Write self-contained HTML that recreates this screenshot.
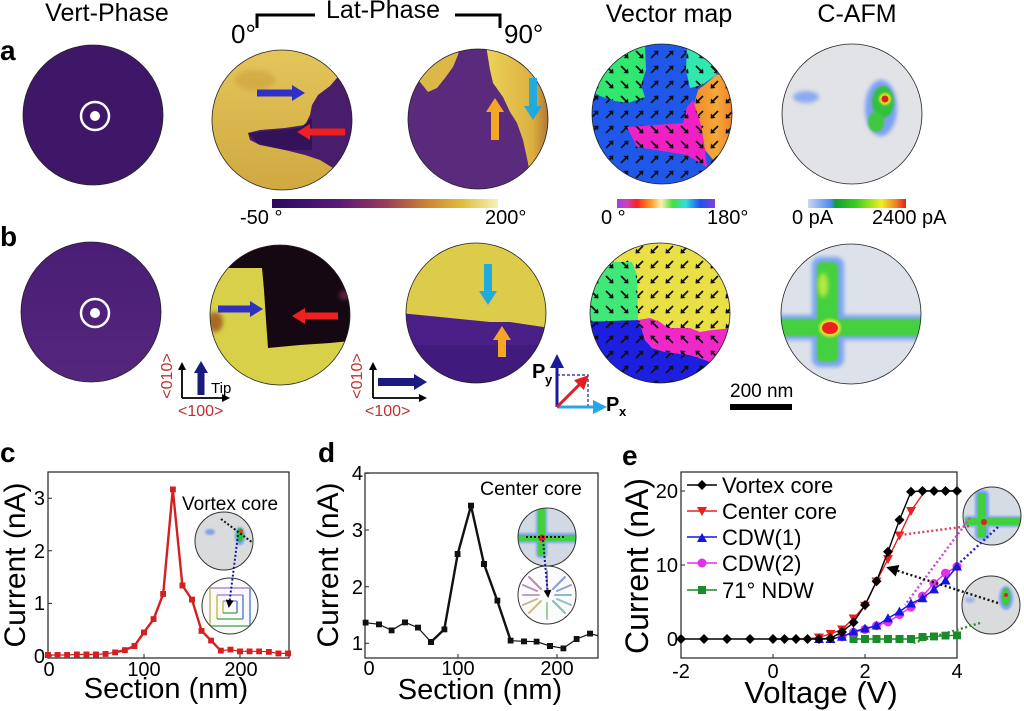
<!DOCTYPE html>
<html><head><meta charset="utf-8"><style>
html,body{margin:0;padding:0;background:#fff;}
svg{display:block;}
text{font-family:"Liberation Sans",Arial,sans-serif;}
</style></head><body>
<svg width="1024" height="711" viewBox="0 0 1024 711" xmlns="http://www.w3.org/2000/svg">
<defs>
<clipPath id="c1"><circle cx="93" cy="115" r="70"/></clipPath>
<clipPath id="c2"><circle cx="282" cy="120" r="70"/></clipPath>
<clipPath id="c3"><circle cx="478" cy="119" r="70"/></clipPath>
<clipPath id="c4"><circle cx="662" cy="114" r="70"/></clipPath>
<clipPath id="c5"><circle cx="852" cy="114" r="70"/></clipPath>
<clipPath id="c6"><circle cx="91" cy="312" r="70"/></clipPath>
<clipPath id="c7"><circle cx="280" cy="315" r="70"/></clipPath>
<clipPath id="c8"><circle cx="476" cy="313" r="70"/></clipPath>
<clipPath id="c9"><circle cx="660" cy="313" r="70"/></clipPath>
<clipPath id="c10"><circle cx="851" cy="314" r="70"/></clipPath>
<clipPath id="ci1"><circle cx="224" cy="541" r="29"/></clipPath>
<clipPath id="ci2"><circle cx="230" cy="606" r="28"/></clipPath>
<clipPath id="ci3"><circle cx="547" cy="537" r="29"/></clipPath>
<clipPath id="ci4"><circle cx="547" cy="595" r="29"/></clipPath>
<clipPath id="ci5"><circle cx="992" cy="516" r="29"/></clipPath>
<clipPath id="ci6"><circle cx="991" cy="605" r="29"/></clipPath>
<filter id="bl2" x="-50%" y="-50%" width="200%" height="200%"><feGaussianBlur stdDeviation="2"/></filter>
<filter id="bl1" x="-50%" y="-50%" width="200%" height="200%"><feGaussianBlur stdDeviation="1"/></filter>
<linearGradient id="gLat" x1="0" x2="1" y1="0" y2="0">
<stop offset="0" stop-color="#2a0a5e"/><stop offset="0.3" stop-color="#5a1a78"/><stop offset="0.5" stop-color="#9a3a58"/><stop offset="0.7" stop-color="#d08a30"/><stop offset="0.85" stop-color="#e0c040"/><stop offset="1" stop-color="#f6f2b8"/>
</linearGradient>
<linearGradient id="gVec" x1="0" x2="1" y1="0" y2="0">
<stop offset="0" stop-color="#a040e0"/><stop offset="0.1" stop-color="#d040c0"/><stop offset="0.2" stop-color="#ff2020"/><stop offset="0.35" stop-color="#ffa020"/><stop offset="0.45" stop-color="#fff0b0"/><stop offset="0.57" stop-color="#40e040"/><stop offset="0.7" stop-color="#30e0e0"/><stop offset="0.85" stop-color="#2050f0"/><stop offset="1" stop-color="#8040e0"/>
</linearGradient>
<linearGradient id="gAfm" x1="0" x2="1" y1="0" y2="0">
<stop offset="0" stop-color="#c8d8f0"/><stop offset="0.24" stop-color="#4a86f0"/><stop offset="0.28" stop-color="#10a030"/><stop offset="0.5" stop-color="#40d020"/><stop offset="0.75" stop-color="#f0f020"/><stop offset="0.9" stop-color="#f08020"/><stop offset="1" stop-color="#e02020"/>
</linearGradient>
<linearGradient id="gY0" x1="0" x2="0" y1="0" y2="1">
<stop offset="0" stop-color="#e4c65a"/><stop offset="1" stop-color="#cfa840"/>
</linearGradient>
<linearGradient id="gY90" x1="0" x2="1" y1="0" y2="0">
<stop offset="0" stop-color="#ecd458"/><stop offset="0.7" stop-color="#dcb040"/><stop offset="1" stop-color="#a86a30"/>
</linearGradient>
<linearGradient id="gOr" x1="0" x2="1" y1="0" y2="0">
<stop offset="0" stop-color="#f08a28"/><stop offset="0.5" stop-color="#f4a83a"/><stop offset="1" stop-color="#ec7020"/>
</linearGradient>
<linearGradient id="gPb" x1="0" x2="0" y1="0" y2="1">
<stop offset="0" stop-color="#4a1e76"/><stop offset="1" stop-color="#55267e"/>
</linearGradient>
<pattern id="aSW" width="15" height="15" patternUnits="userSpaceOnUse" x="2" y="2"><path d="M11,4 L6,9" stroke="#111" stroke-width="1.8"/><path d="M3.5,11.5 L4,6.5 L8.5,11 Z" fill="#111"/></pattern>
<pattern id="aSE" width="15" height="15" patternUnits="userSpaceOnUse" x="2" y="2"><path d="M4,4 L9,9" stroke="#111" stroke-width="1.8"/><path d="M11.5,11.5 L6.5,11 L11,6.5 Z" fill="#111"/></pattern>
<pattern id="aNE" width="15" height="15" patternUnits="userSpaceOnUse" x="2" y="2"><path d="M4,11 L9,6" stroke="#111" stroke-width="1.8"/><path d="M11.5,3.5 L11,8.5 L6.5,4 Z" fill="#111"/></pattern>
<pattern id="aNW" width="15" height="15" patternUnits="userSpaceOnUse" x="2" y="2"><path d="M11,11 L6,6" stroke="#111" stroke-width="1.8"/><path d="M3.5,3.5 L8.5,4 L4,8.5 Z" fill="#111"/></pattern>
<marker id="hB" markerWidth="8" markerHeight="8" refX="6" refY="4" orient="auto" markerUnits="userSpaceOnUse"><path d="M0,0 L8,4 L0,8 Z" fill="#000"/></marker>
<marker id="hBig" markerWidth="12" markerHeight="12" refX="9" refY="6" orient="auto" markerUnits="userSpaceOnUse"><path d="M0,0 L12,6 L0,12 Z" fill="#000"/></marker>
<marker id="hNavy" markerWidth="14" markerHeight="14" refX="10" refY="7" orient="auto" markerUnits="userSpaceOnUse"><path d="M0,0 L14,7 L0,14 Z" fill="#1a1a9a"/></marker>
<marker id="hCy" markerWidth="14" markerHeight="14" refX="10" refY="7" orient="auto" markerUnits="userSpaceOnUse"><path d="M0,0 L14,7 L0,14 Z" fill="#22a8e8"/></marker>
<marker id="hRd" markerWidth="14" markerHeight="14" refX="10" refY="7" orient="auto" markerUnits="userSpaceOnUse"><path d="M0,0 L14,7 L0,14 Z" fill="#e02020"/></marker>
<marker id="mSqR" markerWidth="6" markerHeight="6" refX="3" refY="3" markerUnits="userSpaceOnUse"><rect width="6" height="6" fill="#d42020"/></marker>
<marker id="mSqK" markerWidth="6" markerHeight="6" refX="3" refY="3" markerUnits="userSpaceOnUse"><rect width="6" height="6" fill="#111"/></marker>
<marker id="mDia" markerWidth="10" markerHeight="10" refX="5" refY="5" markerUnits="userSpaceOnUse"><path d="M5,0 L10,5 L5,10 L0,5 Z" fill="#000"/></marker>
<marker id="mTd" markerWidth="10" markerHeight="10" refX="5" refY="4" markerUnits="userSpaceOnUse"><path d="M0,0 L10,0 L5,9 Z" fill="#e82020"/></marker>
<marker id="mTu" markerWidth="10" markerHeight="10" refX="5" refY="6" markerUnits="userSpaceOnUse"><path d="M0,10 L10,10 L5,1 Z" fill="#1515e0"/></marker>
<marker id="mCi" markerWidth="10" markerHeight="10" refX="5" refY="5" markerUnits="userSpaceOnUse"><circle cx="5" cy="5" r="4.5" fill="#e030e8"/></marker>
<marker id="mSqG" markerWidth="8" markerHeight="8" refX="4" refY="4" markerUnits="userSpaceOnUse"><rect width="8" height="8" fill="#1a8a2a"/></marker>
</defs>

<rect width="1024" height="711" fill="#fff"/>

<!-- Titles -->
<text x="107" y="21" font-size="25" text-anchor="middle">Vert-Phase</text>
<text x="383" y="18" font-size="25" text-anchor="middle">Lat-Phase</text>
<text x="669" y="22" font-size="25" text-anchor="middle">Vector map</text>
<text x="857" y="22" font-size="25" text-anchor="middle">C-AFM</text>
<path d="M257,28 V15 H315 M455,15 H500 V28" stroke="#000" stroke-width="3" fill="none"/>
<text x="231" y="43" font-size="26">0°</text>
<text x="504" y="43" font-size="26">90°</text>
<text x="0" y="60" font-size="28" font-weight="bold">a</text>
<text x="0" y="246" font-size="28" font-weight="bold">b</text>

<!-- Row a: Vert-Phase -->
<g clip-path="url(#c1)"><rect x="20" y="40" width="150" height="150" fill="#3f1769"/></g>
<circle cx="93" cy="115" r="70" fill="none" stroke="#222" stroke-width="0.8"/>
<circle cx="95" cy="116" r="14" fill="none" stroke="#fff" stroke-width="2.5"/>
<circle cx="95" cy="116" r="5" fill="#fff"/>

<!-- Row a: Lat 0 -->
<g clip-path="url(#c2)">
<rect x="210" y="48" width="145" height="145" fill="url(#gY0)"/>
<ellipse cx="255" cy="80" rx="20" ry="10" fill="#c89a38" opacity="0.5" filter="url(#bl2)"/>
<polygon points="342,72 330,86 318,95 312,105 310,115 305,125 285,128 260,130 248,133 250,140 260,145 285,150 305,155 320,160 333,168 340,178 362,178 362,70" fill="#4a1c6c"/>
<polygon points="248,133 300,128 312,118 312,150 285,150 258,144" fill="#34125a"/>
</g>
<circle cx="282" cy="120" r="70" fill="none" stroke="#222" stroke-width="0.8"/>
<polygon points="257,89.5 292,89.5 292,85 305,93 292,101 292,96.5 257,96.5" fill="#3030c8"/>
<polygon points="345,128.5 310,128.5 310,124 297,132 310,140 310,135.5 345,135.5" fill="#ee2020"/>

<!-- Row a: Lat 90 -->
<g clip-path="url(#c3)">
<rect x="405" y="46" width="146" height="146" fill="#5a2a7c"/>
<polygon points="486,45 490,70 493,83 503,97 510,112 517,123 523,140 528,163 532,192 552,192 552,45" fill="url(#gY90)"/>
<polygon points="405,78 420,82 428,92 437,88 445,78 453,67 458,55 460,45 405,45" fill="#dcb848"/>
</g>
<circle cx="478" cy="119" r="70" fill="none" stroke="#222" stroke-width="0.8"/>
<polygon points="491,140 491,112 486,112 495,98 504,112 499,112 499,140" fill="#f5a623"/>
<polygon points="529,78 529,106 524,106 533,120 542,106 537,106 537,78" fill="#22aadd"/>

<!-- Row a: Vector map -->
<g clip-path="url(#c4)">
<rect x="590" y="42" width="146" height="146" fill="#1f58e8"/>
<rect x="590" y="42" width="146" height="146" fill="url(#aNE)"/>
<polygon points="590,44 645,44 646,70 641,85 645,97 628,103 615,101 600,96 590,90" fill="#30e870"/>
<polygon points="590,44 645,44 646,70 641,85 645,97 628,103 615,101 600,96 590,90" fill="url(#aSE)"/>
<polygon points="687,44 728,44 716,75 702,85 690,88 686,70" fill="#30e8b0"/>
<polygon points="687,44 728,44 716,75 702,85 690,88 686,70" fill="url(#aSE)"/>
<polygon points="716,75 740,70 740,178 715,162 705,150 701,125 693,108 698,90 708,82" fill="url(#gOr)"/>
<polygon points="716,75 740,70 740,178 715,162 705,150 701,125 693,108 698,90 708,82" fill="url(#aSW)"/>
<polygon points="627,127 683,123 687,107 693,100 701,125 705,150 707,167 687,155 637,147" fill="#f020c4"/>
<polygon points="627,127 683,123 687,107 693,100 701,125 705,150 707,167 687,155 637,147" fill="url(#aSE)"/>
</g>
<circle cx="662" cy="114" r="70" fill="none" stroke="#222" stroke-width="0.8"/>

<!-- Row a: C-AFM -->
<circle cx="852" cy="114" r="70" fill="#e2e3e7"/>
<g clip-path="url(#c5)">
<ellipse cx="806" cy="97" rx="13" ry="6" fill="#8aaaf0" filter="url(#bl2)"/>
<ellipse cx="881" cy="108" rx="16" ry="28" fill="#7aa0f0" filter="url(#bl2)"/>
<ellipse cx="883" cy="102" rx="11" ry="16" fill="#30c040" filter="url(#bl1)"/>
<ellipse cx="876" cy="122" rx="8" ry="10" fill="#40c840" filter="url(#bl1)"/>
<circle cx="885" cy="99" r="6" fill="#e8e020" filter="url(#bl1)"/>
<circle cx="885" cy="99" r="3.5" fill="#e02020"/>
</g>
<circle cx="852" cy="114" r="70" fill="none" stroke="#222" stroke-width="0.8"/>

<!-- colorbars -->
<rect x="272" y="199" width="226" height="9" fill="url(#gLat)"/>
<text x="240" y="224" font-size="20">-50 °</text>
<text x="485" y="224" font-size="20">200°</text>
<rect x="617" y="199" width="98" height="9" fill="url(#gVec)"/>
<text x="601" y="224" font-size="20">0 °</text>
<text x="707" y="224" font-size="20">180°</text>
<rect x="808" y="199" width="98" height="9" fill="url(#gAfm)"/>
<text x="792" y="224" font-size="20">0 pA</text>
<text x="872" y="224" font-size="20">2400 pA</text>

<!-- Row b: Vert-Phase -->
<g clip-path="url(#c6)"><rect x="20" y="240" width="150" height="150" fill="url(#gPb)"/></g>
<circle cx="91" cy="312" r="70" fill="none" stroke="#222" stroke-width="0.8"/>
<circle cx="95" cy="313" r="14" fill="none" stroke="#fff" stroke-width="2.5"/>
<circle cx="95" cy="313" r="5" fill="#fff"/>

<!-- Row b: Lat 0 -->
<g clip-path="url(#c7)">
<rect x="208" y="243" width="146" height="146" fill="#d8d048"/>
<ellipse cx="215" cy="322" rx="8" ry="10" fill="#a86a28" filter="url(#bl2)"/>
<polygon points="200,235 360,235 360,340 330,343 300,345 268,348 266,320 264,290 262,268 200,268" fill="#150812"/>
<ellipse cx="345" cy="295" rx="6" ry="5" fill="#5a2040" filter="url(#bl2)"/>
</g>
<circle cx="280" cy="315" r="70" fill="none" stroke="#222" stroke-width="0.8"/>
<polygon points="218,305.5 250,305.5 250,301 263,309 250,317 250,312.5 218,312.5" fill="#3030c0"/>
<polygon points="338,312.5 305,312.5 305,308 292,316 305,324 305,319.5 338,319.5" fill="#ee2020"/>

<!-- Row b: Lat 90 -->
<g clip-path="url(#c8)">
<rect x="404" y="241" width="146" height="146" fill="#dccc4a"/>
<polygon points="400,313 430,316 450,318 470,320 490,322 510,322 530,325 550,328 550,390 400,390" fill="#4a2088"/>
<rect x="400" y="345" width="150" height="45" fill="#3c1878" opacity="0.6"/>
</g>
<circle cx="476" cy="313" r="70" fill="none" stroke="#222" stroke-width="0.8"/>
<polygon points="484,264 484,291 479,291 488,305 497,291 492,291 492,264" fill="#22aadd"/>
<polygon points="498,357 498,340 493,340 502,326 511,340 506,340 506,357" fill="#f5a623"/>

<!-- Row b: Vector map -->
<g clip-path="url(#c9)">
<rect x="588" y="241" width="146" height="146" fill="#e8e044"/>
<rect x="588" y="241" width="146" height="146" fill="url(#aSW)"/>
<polygon points="585,262 632,262 637,275 638,320 615,322 585,322" fill="#40e878"/>
<polygon points="585,262 632,262 637,275 638,320 615,322 585,322" fill="url(#aSE)"/>
<polygon points="585,322 638,320 642,330 645,340 652,348 665,352 690,355 705,360 720,366 740,370 740,400 585,400" fill="#1c1ee0"/>
<polygon points="585,322 638,320 642,330 645,340 652,348 665,352 690,355 705,360 720,366 740,370 740,400 585,400" fill="url(#aNE)"/>
<polygon points="638,320 650,318 660,322 668,328 690,328 700,332 712,330 735,328 740,340 740,370 720,366 705,360 690,355 665,352 652,348 645,340 642,330" fill="#f028c8"/>
<polygon points="638,320 650,318 660,322 668,328 690,328 700,332 712,330 735,328 740,340 740,370 720,366 705,360 690,355 665,352 652,348 645,340 642,330" fill="url(#aNW)"/>
</g>
<circle cx="660" cy="313" r="70" fill="none" stroke="#222" stroke-width="0.8"/>

<!-- Row b: C-AFM -->
<circle cx="851" cy="314" r="70" fill="#dde2ea"/>
<g clip-path="url(#c10)">
<rect x="812" y="257" width="32" height="110" rx="8" fill="#7aa4f0" filter="url(#bl2)"/>
<rect x="778" y="315" width="150" height="25" fill="#7aa4f0" filter="url(#bl2)"/>
<rect x="817" y="262" width="21" height="100" rx="6" fill="#44d040" filter="url(#bl1)"/>
<rect x="780" y="319" width="146" height="17" fill="#44d040" filter="url(#bl1)"/>
<ellipse cx="823" cy="285" rx="5" ry="12" fill="#b8e840" filter="url(#bl2)"/>
<ellipse cx="830" cy="328" rx="11" ry="9" fill="#d8e030" filter="url(#bl1)"/>
<ellipse cx="830" cy="328" rx="8" ry="6" fill="#f02020"/>
</g>
<circle cx="851" cy="314" r="70" fill="none" stroke="#222" stroke-width="0.8"/>

<!-- Icons -->
<text transform="translate(172,376) rotate(-90)" font-size="16" fill="#c03030" text-anchor="middle">&lt;010&gt;</text>
<line x1="182" y1="398" x2="182" y2="364" stroke="#000" stroke-width="1.8" marker-end="url(#hB)"/>
<line x1="182" y1="398" x2="228" y2="398" stroke="#000" stroke-width="1.8" marker-end="url(#hB)"/>
<polygon points="197.5,395 197.5,373 194,373 201,361 208,373 204.5,373 204.5,395" fill="#1a1a80"/>
<text x="211" y="393" font-size="15">Tip</text>
<text x="178" y="416" font-size="16" fill="#c03030">&lt;100&gt;</text>

<text transform="translate(362,376) rotate(-90)" font-size="16" fill="#c03030" text-anchor="middle">&lt;010&gt;</text>
<line x1="373" y1="398" x2="373" y2="364" stroke="#000" stroke-width="1.8" marker-end="url(#hB)"/>
<line x1="373" y1="398" x2="425" y2="398" stroke="#000" stroke-width="1.8" marker-end="url(#hB)"/>
<polygon points="378,378 414,378 414,374 427,382 414,390 414,386 378,386" fill="#1a1a80"/>
<text x="365" y="416" font-size="16" fill="#c03030">&lt;100&gt;</text>

<path d="M557,375 H588 V406" stroke="#1a1a9a" stroke-width="1.2" stroke-dasharray="3 2" fill="none"/>
<line x1="557" y1="407" x2="557" y2="358" stroke="#1a1a9a" stroke-width="3" marker-end="url(#hNavy)"/>
<line x1="557" y1="407" x2="603" y2="407" stroke="#22a8e8" stroke-width="3" marker-end="url(#hCy)"/>
<line x1="557" y1="407" x2="586" y2="378" stroke="#e02020" stroke-width="3" marker-end="url(#hRd)"/>
<text x="532" y="378" font-size="20" font-weight="bold">P</text>
<text x="545" y="384" font-size="13" font-weight="bold">y</text>
<text x="606" y="411" font-size="20" font-weight="bold">P</text>
<text x="619" y="416" font-size="13" font-weight="bold">x</text>

<text x="730" y="397" font-size="19">200 nm</text>
<rect x="730" y="404" width="62" height="6" fill="#000"/>

<!-- Panel labels bottom -->
<text x="0" y="462" font-size="28" font-weight="bold">c</text>
<text x="318" y="462" font-size="28" font-weight="bold">d</text>
<text x="622" y="465" font-size="28" font-weight="bold">e</text>

<!-- Chart c -->
<rect x="48" y="472" width="241" height="186" fill="none" stroke="#222" stroke-width="1.2"/>
<path d="M48,656 h4 M48,603.4 h4 M48,550.8 h4 M48,498.2 h4 M144,658 v-4 M240,658 v-4" stroke="#222" stroke-width="1"/>
<g font-size="20" text-anchor="end">
<text x="45" y="663">0</text><text x="45" y="610">1</text><text x="45" y="558">2</text><text x="45" y="505">3</text>
</g>
<g font-size="20" text-anchor="middle">
<text x="49" y="676">0</text><text x="144" y="676">100</text><text x="241" y="676">200</text>
</g>
<text x="166" y="698" font-size="29" text-anchor="middle">Section (nm)</text>
<text transform="translate(25,565) rotate(-90)" font-size="30" text-anchor="middle">Current (nA)</text>
<polyline points="48,655 57.6,655 67.2,655 76.8,654.4 86.4,654.4 96,654.4 105.6,653.9 115.2,652.3 124.8,650.2 134.4,646 144,632.3 153.6,619.2 163.2,593.9 172.8,489.3 182.4,585.5 192,599.7 201.6,630.8 211.2,640.7 220.8,650.7 230.4,649.7 240,651.3 249.6,651.3 259.2,651.3 268.8,651.8 278.4,653.4 288,653.4" fill="none" stroke="#d42020" stroke-width="1.2" marker-start="url(#mSqR)" marker-mid="url(#mSqR)" marker-end="url(#mSqR)"/>
<polyline points="115.2,652.3 124.8,650.2 134.4,646 144,632.3 153.6,619.2 163.2,593.9 172.8,489.3 182.4,585.5 192,599.7 201.6,630.8 211.2,640.7 220.8,650.7" fill="none" stroke="#d42020" stroke-width="2.4" stroke-linejoin="round"/>
<text x="182" y="510" font-size="19">Vortex core</text>
<circle cx="224" cy="541" r="29" fill="#dadbdd"/>
<g clip-path="url(#ci1)">
<ellipse cx="210" cy="532" rx="5" ry="3" fill="#80a0e8" filter="url(#bl1)"/>
<ellipse cx="240" cy="536" rx="5" ry="9" fill="#70a0e8" filter="url(#bl1)"/>
<ellipse cx="240" cy="535" rx="3.5" ry="7" fill="#30c040"/>
<circle cx="241" cy="531" r="2" fill="#e04020"/>
</g>
<circle cx="224" cy="541" r="29" fill="none" stroke="#333" stroke-width="1"/>
<line x1="221" y1="519" x2="253" y2="543" stroke="#111" stroke-width="2" stroke-dasharray="2 2"/>
<circle cx="230" cy="606" r="28" fill="#fafafa"/>
<g clip-path="url(#ci2)" fill="none" stroke-width="1.6">
<path d="M210,588 H250" stroke="#b08ad8"/><path d="M210,588 V626" stroke="#c8c060"/><path d="M210,626 H250" stroke="#60b060"/><path d="M250,588 V626" stroke="#6a8ad8"/>
<path d="M217,595 H243" stroke="#b08ad8"/><path d="M217,595 V619" stroke="#c8c060"/><path d="M217,619 H243" stroke="#60b060"/><path d="M243,595 V619" stroke="#6a8ad8"/>
<path d="M223,601 H237" stroke="#b08ad8"/><path d="M223,601 V613" stroke="#c8c060"/><path d="M223,613 H237" stroke="#60b060"/><path d="M237,601 V613" stroke="#6a8ad8"/>
</g>
<circle cx="230" cy="606" r="28" fill="none" stroke="#333" stroke-width="1"/>
<line x1="238" y1="535" x2="229" y2="606" stroke="#1a1a90" stroke-width="2" stroke-dasharray="2 2" marker-end="url(#hB)"/>

<!-- Chart d -->
<rect x="365" y="473" width="233" height="185" fill="none" stroke="#222" stroke-width="1.2"/>
<path d="M365,643.3 h4 M365,586.7 h4 M365,530 h4 M365,473.3 h4 M458,658 v-4 M557,658 v-4" stroke="#222" stroke-width="1"/>
<g font-size="20" text-anchor="end">
<text x="363" y="650">1</text><text x="363" y="594">2</text><text x="363" y="537">3</text><text x="363" y="480">4</text>
</g>
<g font-size="20" text-anchor="middle">
<text x="369" y="675">0</text><text x="458" y="675">100</text><text x="557" y="675">200</text>
</g>
<text x="480" y="699" font-size="29" text-anchor="middle">Section (nm)</text>
<text transform="translate(338,565) rotate(-90)" font-size="30" text-anchor="middle">Current (nA)</text>
<polyline points="365.7,622.7 379,624.3 391.7,630.3 405,622.3 418,627.7 431,642 444.3,629.3 457.7,554 471,505.7 484,564 497.3,600.7 510.7,640.7 524,641.3 536.7,641.7 550,646 563.3,648.3 576.7,639 590,633.7" fill="none" stroke="#111" stroke-width="1.2" marker-start="url(#mSqK)" marker-mid="url(#mSqK)" marker-end="url(#mSqK)"/>
<polyline points="590,633.7 598,635.7" fill="none" stroke="#111" stroke-width="1.2"/>
<polyline points="431,642 444.3,629.3 457.7,554 471,505.7 484,564 497.3,600.7 510.7,640.7" fill="none" stroke="#111" stroke-width="2.4" stroke-linejoin="round"/>
<text x="480" y="495" font-size="19.5">Center core</text>
<circle cx="547" cy="537" r="29" fill="#d2d9e2"/>
<g clip-path="url(#ci3)">
<rect x="536" y="506" width="11" height="52" rx="4" fill="#7aa4f0" filter="url(#bl1)"/>
<rect x="515" y="533" width="64" height="10" fill="#7aa4f0" filter="url(#bl1)"/>
<rect x="538" y="508" width="7" height="48" fill="#40d040"/>
<rect x="515" y="535" width="64" height="6" fill="#40d040"/>
<circle cx="542" cy="538" r="3.5" fill="#e02020"/>
</g>
<circle cx="547" cy="537" r="29" fill="none" stroke="#333" stroke-width="1"/>
<line x1="526" y1="537" x2="566" y2="537" stroke="#111" stroke-width="2" stroke-dasharray="2 2"/>
<circle cx="547" cy="595" r="29" fill="#fbfbfb"/>
<g clip-path="url(#ci4)" stroke-width="2" stroke-linecap="round">
<path d="M547,595 m0,-8 v-16" stroke="#9a8ad0"/><path d="M547,595 m0,8 v16" stroke="#9ad0a0"/>
<path d="M547,595 m-8,0 h-16" stroke="#c0a0c8"/><path d="M547,595 m8,0 h16" stroke="#8ab8d0"/>
<path d="M547,595 m-6,-6 l-12,-12" stroke="#c08ab0"/><path d="M547,595 m6,-6 l12,-12" stroke="#8a9ad8"/>
<path d="M547,595 m-6,6 l-12,12" stroke="#c8c080"/><path d="M547,595 m6,6 l12,12" stroke="#80c0b0"/>
<path d="M547,595 m-10,-4 l-14,-6" stroke="#b890c0"/><path d="M547,595 m10,-4 l14,-6" stroke="#90a0d8"/>
<path d="M547,595 m-10,4 l-14,6" stroke="#c8b890"/><path d="M547,595 m10,4 l14,6" stroke="#90c0c0"/>
</g>
<circle cx="547" cy="595" r="29" fill="none" stroke="#333" stroke-width="1"/>
<line x1="543" y1="540" x2="548" y2="596" stroke="#1a1a90" stroke-width="2" stroke-dasharray="2 2" marker-end="url(#hB)"/>

<!-- Chart e -->
<rect x="681" y="472" width="276" height="186" fill="none" stroke="#222" stroke-width="1.2"/>
<path d="M681,639 h4 M681,565 h4 M681,491 h4 M773,658 v-4 M865,658 v-4" stroke="#222" stroke-width="1"/>
<g font-size="20" text-anchor="end">
<text x="678" y="646">0</text><text x="678" y="572">10</text><text x="678" y="498">20</text>
</g>
<g font-size="20" text-anchor="middle">
<text x="681" y="678">-2</text><text x="773" y="678">0</text><text x="865" y="678">2</text><text x="957" y="678">4</text>
</g>
<text x="821" y="703" font-size="31" text-anchor="middle">Voltage (V)</text>
<text transform="translate(648,566) rotate(-90)" font-size="32" text-anchor="middle">Current (nA)</text>

<polyline points="853.5,639 865,639 876.5,639 888,639 899.5,639 911,639 922.5,637 934,636.4 945.5,635.7 957,635.3" fill="none" stroke="#1a8a2a" stroke-width="1.4" marker-start="url(#mSqG)" marker-mid="url(#mSqG)" marker-end="url(#mSqG)"/>
<polyline points="830.5,639 842,636.8 853.5,632.3 865,629.4 876.5,625.7 888,622 899.5,614.6 911,607.2 922.5,596.1 934,583.5 945.5,573.1 957,566.5" fill="none" stroke="#e030e8" stroke-width="1.4" marker-mid="url(#mCi)" marker-end="url(#mCi)"/>
<polyline points="819,639 830.5,639 842,636.8 853.5,631.6 865,628.6 876.5,625.7 888,618.3 899.5,611.6 911,603.5 922.5,598.3 934,589.4 945.5,580.5 957,566.5" fill="none" stroke="#1515e0" stroke-width="1.4" marker-start="url(#mTu)" marker-mid="url(#mTu)" marker-end="url(#mTu)"/>
<polyline points="773,639 784.5,639 796,639 807.5,639 819,637.5 830.5,633.8 842,629.4 853.5,618.3 865,605.7 876.5,581.3 888,559.1 899.5,535.4 911,511 925,491 957,491" fill="none" stroke="#e82020" stroke-width="1.4"/>
<polyline points="819,637.5 830.5,633.8 842,629.4 853.5,618.3 865,605.7 876.5,581.3 888,559.1 899.5,535.4 911,511" fill="none" stroke="none" marker-start="url(#mTd)" marker-mid="url(#mTd)" marker-end="url(#mTd)"/>
<polyline points="681,639 704,639 727,639 750,639 773,639 784.5,639 796,639 807.5,639 819,639 830.5,638.3 842,632 853.5,622.4 865,605 876.5,581.3 888,551.7 899.5,519.9 911,491.7 922.5,491 934,491 945.5,491 957,491" fill="none" stroke="#000" stroke-width="1.4" marker-start="url(#mDia)" marker-mid="url(#mDia)" marker-end="url(#mDia)"/>

<!-- legend -->
<line x1="687" y1="485" x2="717" y2="485" stroke="#000" stroke-width="1.4"/>
<path d="M697,485 L702,480 L707,485 L702,490 Z" fill="#000"/>
<text x="722" y="493" font-size="22">Vortex core</text>
<line x1="687" y1="511" x2="717" y2="511" stroke="#e82020" stroke-width="1.4"/>
<path d="M697,507 L707,507 L702,516 Z" fill="#e82020"/>
<text x="722" y="519" font-size="22">Center core</text>
<line x1="687" y1="537" x2="717" y2="537" stroke="#1515e0" stroke-width="1.4"/>
<path d="M697,542 L707,542 L702,533 Z" fill="#1515e0"/>
<text x="722" y="545" font-size="22">CDW(1)</text>
<line x1="687" y1="563" x2="717" y2="563" stroke="#e030e8" stroke-width="1.4"/>
<circle cx="702" cy="563" r="4.5" fill="#e030e8"/>
<text x="722" y="571" font-size="22">CDW(2)</text>
<line x1="687" y1="590" x2="717" y2="590" stroke="#1a8a2a" stroke-width="1.4"/>
<rect x="698" y="586" width="8" height="8" fill="#1a8a2a"/>
<text x="722" y="598" font-size="22">71° NDW</text>

<!-- e insets -->
<circle cx="992" cy="516" r="29" fill="#d6dce4"/>
<g clip-path="url(#ci5)">
<rect x="975" y="490" width="14" height="50" rx="5" fill="#7aa4f0" filter="url(#bl1)"/>
<rect x="965" y="516" width="60" height="11" fill="#7aa4f0" filter="url(#bl1)"/>
<rect x="978" y="493" width="8" height="44" fill="#40d040"/>
<rect x="965" y="518" width="60" height="7" fill="#40d040"/>
<circle cx="984" cy="522" r="3" fill="#e02020"/>
</g>
<circle cx="992" cy="516" r="29" fill="none" stroke="#333" stroke-width="1"/>
<circle cx="991" cy="605" r="29" fill="#dadbdd"/>
<g clip-path="url(#ci6)">
<ellipse cx="970" cy="600" rx="5" ry="3" fill="#a0b8e8" filter="url(#bl1)"/>
<ellipse cx="1006" cy="598" rx="7" ry="12" fill="#7aa4f0" filter="url(#bl1)"/>
<ellipse cx="1006" cy="597" rx="4.5" ry="9" fill="#40c840"/>
<circle cx="1006" cy="595" r="2" fill="#e02020"/>
</g>
<circle cx="991" cy="605" r="29" fill="none" stroke="#333" stroke-width="1"/>

<!-- e dotted pointers -->
<g stroke-width="2.4" stroke-dasharray="2 2.5" fill="none">
<line x1="969" y1="526" x2="900" y2="535" stroke="#e04060"/>
<line x1="970" y1="518" x2="905" y2="605" stroke="#cc44dd"/>
<line x1="998" y1="527" x2="952" y2="570" stroke="#2222bb"/>
<line x1="998" y1="603" x2="889" y2="568" stroke="#111" marker-end="url(#hBig)"/>
<line x1="980" y1="623" x2="913" y2="643" stroke="#2a8a2a"/>
</g>
</svg>
</body></html>
